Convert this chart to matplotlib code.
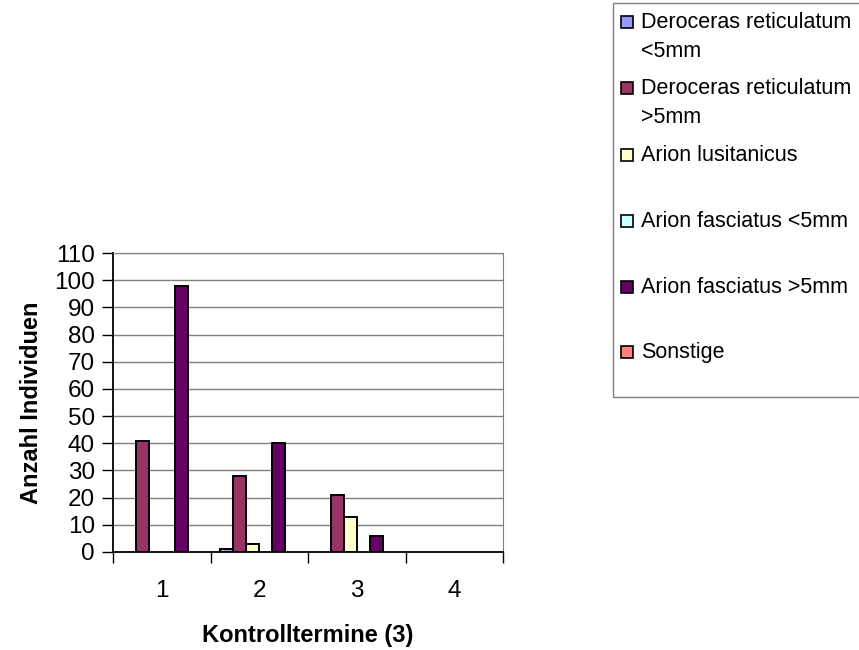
import numpy as np
import matplotlib.pyplot as plt
from matplotlib.patches import Rectangle

plt.rcParams['font.family'] = ['Liberation Sans', 'DejaVu Sans']

# Data
termine = ['1', '2', '3', '4']
series_names = ['Deroceras reticulatum\n<5mm', 'Deroceras reticulatum\n>5mm',
                'Arion lusitanicus', 'Arion fasciatus <5mm',
                'Arion fasciatus >5mm', 'Sonstige']
dr_small = [0, 1, 0, 0]
dr_large = [41, 28, 21, 0]
arion_lus = [0, 3, 13, 0]
af_small = [0, 0, 0, 0]
af_large = [98, 40, 6, 0]
sonstige = [0, 0, 0, 0]
colors = ['#9999FF', '#993366', '#FFFFCC', '#CCFFFF', '#660066', '#FF8080']

values = [dr_small, dr_large, arion_lus, af_small, af_large, sonstige]

W, H = 859, 650
fig = plt.figure(figsize=(W / 100, H / 100), dpi=100)
ax = fig.add_axes([113 / W, 1 - 552 / H, (503 - 113) / W, (552 - 253) / H])

# Bars (gap width 150% like Excel)
x = np.arange(len(termine))
w = 1 / 7.5
for j, (vals, c) in enumerate(zip(values, colors)):
    v = np.array(vals, dtype=float)
    mask = v > 0
    ax.bar(x[mask] + (j - 2.5) * w, v[mask], width=w, color=c,
           edgecolor='black', linewidth=1.4, zorder=3)

ax.set_xlim(-0.5, len(termine) - 0.5)
ax.set_ylim(0, 110)
ax.set_yticks(np.arange(0, 111, 10))
ax.yaxis.grid(True, color='#808080', linewidth=1.0, zorder=0)

ax.set_xticks(np.arange(-0.5, len(termine), 1.0))
ax.set_xticklabels([])
ax.set_xticks(x, minor=True)
ax.set_xticklabels(termine, minor=True)
ax.tick_params(axis='x', which='major', length=8, width=1, color='black')
ax.tick_params(axis='x', which='minor', length=0, labelsize=17.5, pad=20)
ax.tick_params(axis='y', length=8, width=1, labelsize=17.5, pad=5)

for s in ['top', 'right']:
    ax.spines[s].set_color('#808080')
for s in ['left', 'bottom']:
    ax.spines[s].set_color('black')
    ax.spines[s].set_linewidth(1.3)

ax.set_xlabel('Kontrolltermine (3)', fontsize=17, fontweight='bold', labelpad=16)
ax.set_ylabel('Anzahl Individuen', fontsize=17, fontweight='bold', labelpad=8)

# Legend box drawn like Excel
fig.add_artist(Rectangle((613 / W, 1 - 397 / H), (W - 613 + 5) / W, (397 - 3) / H,
                         transform=fig.transFigure, facecolor='white',
                         edgecolor='#808080', linewidth=1.0))
entry_y = [21.7, 88, 155, 220.7, 286.7, 351.7]
for name, c, yy in zip(series_names, colors, entry_y):
    fig.add_artist(Rectangle((621 / W, 1 - (yy + 6) / H), 12 / W, 12 / H,
                             transform=fig.transFigure, facecolor=c,
                             edgecolor='black', linewidth=1.2))
    fig.text(641 / W, 1 - (yy - 10) / H, name, fontsize=15.5, va='top', ha='left',
             linespacing=1.5)

fig.savefig('out.png', dpi=100)
